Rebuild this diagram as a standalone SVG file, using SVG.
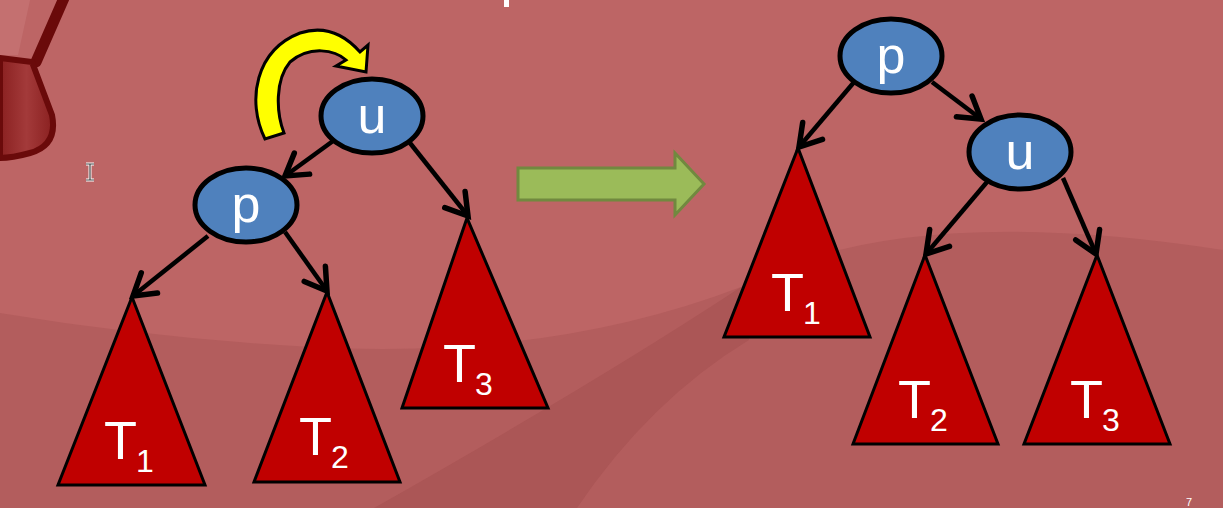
<svg xmlns="http://www.w3.org/2000/svg" width="1223" height="508" viewBox="0 0 1223 508">
<defs>
<style>
.node{fill:#4f81bd;stroke:#000;stroke-width:5}
.tri{fill:#c00000;stroke:#000;stroke-width:3;stroke-linejoin:miter}
.lbl{font-family:"Liberation Sans",Arial,sans-serif;fill:#fff}
.nl{font-size:52px;text-anchor:middle}
.tl{font-size:54px}
.sub{font-size:32px}
.edge{stroke:#000;stroke-width:4.5;fill:none;marker-end:url(#ah)}
</style>
<marker id="ah" markerUnits="userSpaceOnUse" viewBox="-30 -20 40 40" refX="0" refY="0" markerWidth="40" markerHeight="40" orient="auto" overflow="visible">
<path d="M-21,-13 L0,0 L-21,13" fill="none" stroke="#000" stroke-width="5.5" stroke-linecap="round" stroke-linejoin="miter"/>
</marker>
<linearGradient id="mic" x1="0" y1="0" x2="1" y2="0">
<stop offset="0" stop-color="#8a2020"/>
<stop offset="0.5" stop-color="#a33a3a"/>
<stop offset="1" stop-color="#8a2020"/>
</linearGradient>
</defs>
<g id="background">
<rect x="0" y="0" width="1223" height="508" fill="#b35d5d"/>
<path d="M0,0 L1223,0 L1223,250 Q900,200 741,287 Q550,360 312,347 Q150,338 0,313 Z" fill="#bd6565"/>
<path d="M741,287 Q600,380 374,508 L577,508 Q650,400 749,340 Z" fill="#ab5656"/>
<path d="M0,0 L30,0 L18,55 L0,55 Z" fill="#c87878" opacity="0.6"/>
<line x1="64" y1="-2" x2="36" y2="62" stroke="#6a0a0a" stroke-width="11" stroke-linecap="round"/>
<path d="M0,58 L32,62 L52,115 Q58,145 30,153 Q12,158 0,158 Z" fill="url(#mic)" stroke="#6a0a0a" stroke-width="6"/>
<rect x="504" y="0" width="5" height="7" fill="#fff"/>
<text x="1186" y="506" class="lbl" font-size="11">7</text>
<g stroke="#fff" stroke-width="3" fill="none">
<path d="M86,164 H94 M90,164 V180 M86,180 H94"/>
</g>
<g stroke="#444" stroke-width="1.2" fill="none">
<path d="M86,164 H94 M90,164 V180 M86,180 H94"/>
</g>
</g>
<g id="connectors">
<line class="edge" x1="333" y1="141" x2="285" y2="176"/>
<line class="edge" x1="410" y1="143" x2="468" y2="216"/>
<line class="edge" x1="208" y1="236" x2="133" y2="296"/>
<line class="edge" x1="285" y1="232" x2="327" y2="291"/>
<line class="edge" x1="855" y1="81" x2="799" y2="147"/>
<line class="edge" x1="932" y1="82" x2="981" y2="119"/>
<line class="edge" x1="987" y1="182" x2="926" y2="254"/>
<line class="edge" x1="1063" y1="178" x2="1096" y2="254"/>
</g>
<g id="rotate-arrow">
<path d="M265,139 C246,100 256,50 300,33 C325,25 345,35 360,52 L368,45 L366,72 L336,66 L346,60 C335,50 310,45 290,62 C275,80 276,112 284,133 Z" fill="#ffff00" stroke="#000" stroke-width="3" stroke-linejoin="miter"/>
</g>
<g id="transform-arrow">
<path d="M518,168 L675,168 L675,153 L704,184 L675,215 L675,200 L518,200 Z" fill="#9bbb59" stroke="#71893f" stroke-width="3"/>
</g>
<g id="left-u">
<ellipse class="node" cx="372" cy="116" rx="51" ry="37"/>
<text class="lbl nl" x="372" y="133">u</text>
</g>
<g id="left-p">
<ellipse class="node" cx="246" cy="205" rx="51" ry="37"/>
<text class="lbl nl" x="246" y="222">p</text>
</g>
<g id="left-T1">
<polygon class="tri" points="132,297 58,485 205,485"/>
<text class="lbl tl" x="104" y="459">T</text><text class="lbl sub" x="136" y="472">1</text>
</g>
<g id="left-T2">
<polygon class="tri" points="327,292 254,482 400,482"/>
<text class="lbl tl" x="299" y="455">T</text><text class="lbl sub" x="331" y="468">2</text>
</g>
<g id="left-T3">
<polygon class="tri" points="467,218 402,408 548,408"/>
<text class="lbl tl" x="443" y="382">T</text><text class="lbl sub" x="475" y="395">3</text>
</g>
<g id="right-p">
<ellipse class="node" cx="891" cy="56" rx="51" ry="37"/>
<text class="lbl nl" x="891" y="73">p</text>
</g>
<g id="right-u">
<ellipse class="node" cx="1020" cy="152" rx="51" ry="37"/>
<text class="lbl nl" x="1020" y="169">u</text>
</g>
<g id="right-T1">
<polygon class="tri" points="798,148 724,337 870,337"/>
<text class="lbl tl" x="771" y="311">T</text><text class="lbl sub" x="803" y="324">1</text>
</g>
<g id="right-T2">
<polygon class="tri" points="925,255 853,444 998,444"/>
<text class="lbl tl" x="898" y="418">T</text><text class="lbl sub" x="930" y="431">2</text>
</g>
<g id="right-T3">
<polygon class="tri" points="1097,255 1024,444 1170,444"/>
<text class="lbl tl" x="1070" y="418">T</text><text class="lbl sub" x="1102" y="431">3</text>
</g>
</svg>
